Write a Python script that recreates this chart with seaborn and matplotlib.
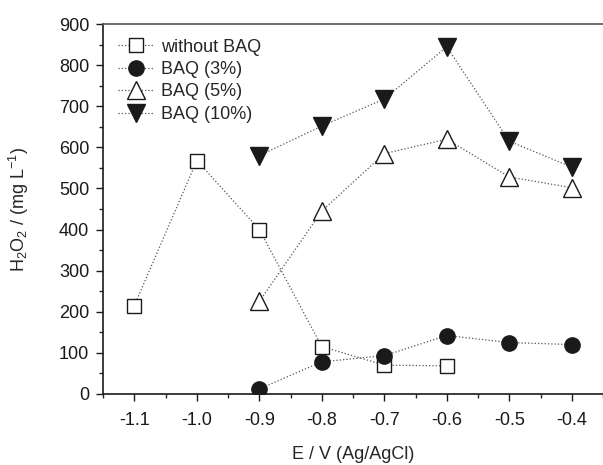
import matplotlib
matplotlib.use("Agg")

import matplotlib.pyplot as plt
import numpy as np
import pandas as pd
import seaborn as sns
from matplotlib.ticker import MultipleLocator

potential_all = [-1.1, -1.0, -0.9, -0.8, -0.7, -0.6]
without_baq = [215, 568, 400, 115, 70, 68]

potential = [-0.9, -0.8, -0.7, -0.6, -0.5, -0.4]
baq_3 = [12, 78, 93, 142, 125, 120]
baq_5 = [225, 445, 585, 620, 528, 502]
baq_10 = [580, 652, 718, 845, 615, 552]

sns.set_style("ticks")
plt.rcParams["font.family"] = ["Liberation Sans", "DejaVu Sans"]
plt.rcParams["mathtext.fontset"] = "custom"
plt.rcParams["mathtext.rm"] = "Liberation Sans"
plt.rcParams["mathtext.it"] = "Liberation Sans:italic"
plt.rcParams["mathtext.default"] = "regular"

fig = plt.figure(figsize=(6.03, 4.65), dpi=100)
ax = fig.add_axes([0.171, 0.153, 0.829, 0.795])

series = [
    ("without BAQ", potential_all, without_baq, "s", "white", 10),
    ("BAQ (3%)", potential, baq_3, "o", "#1a1a1a", 11),
    ("BAQ (5%)", potential, baq_5, "^", "white", 13),
    ("BAQ (10%)", potential, baq_10, "v", "#1a1a1a", 13),
]

for label, xs, ys, mk, fc, ms in series:
    df = pd.DataFrame({"E": xs, "H2O2": ys})
    sns.lineplot(data=df, x="E", y="H2O2", ax=ax, label=label,
                 color="#555555", linestyle=":", linewidth=0.9,
                 marker=mk, markersize=ms, markerfacecolor=fc,
                 markeredgecolor="#1a1a1a", markeredgewidth=1.0)

ax.set_xlim(-1.15, -0.35)
ax.set_ylim(0, 900)
ax.xaxis.set_minor_locator(MultipleLocator(0.05))
ax.yaxis.set_major_locator(MultipleLocator(100))
ax.yaxis.set_minor_locator(MultipleLocator(50))
ticks = np.arange(-1.1, -0.35, 0.1)
ax.set_xticks(ticks)
ax.set_xticklabels([f"{v:.1f}" for v in ticks])

ax.tick_params(which="major", direction="out", length=5, width=1,
               labelsize=13, colors="#1a1a1a", pad=5)
ax.tick_params(axis="x", which="major", pad=8)
ax.tick_params(which="minor", direction="out", length=3, width=1)
for side in ["left", "bottom", "top"]:
    ax.spines[side].set_visible(True)
    ax.spines[side].set_linewidth(1.2)
    ax.spines[side].set_color("#1a1a1a")
ax.spines["top"].set_color("#555555")
ax.spines["right"].set_visible(False)

ax.set_xlabel("E / V (Ag/AgCl)", fontsize=13, labelpad=12)
ax.set_ylabel(r"H$_2$O$_2$ / (mg L$^{-1}$)", fontsize=13, labelpad=20)

leg = ax.legend(loc="upper left", frameon=False, fontsize=13,
                handlelength=2.0, handletextpad=0.4, labelspacing=0.3,
                borderaxespad=0.4)

fig.savefig("out.png", dpi=100)
